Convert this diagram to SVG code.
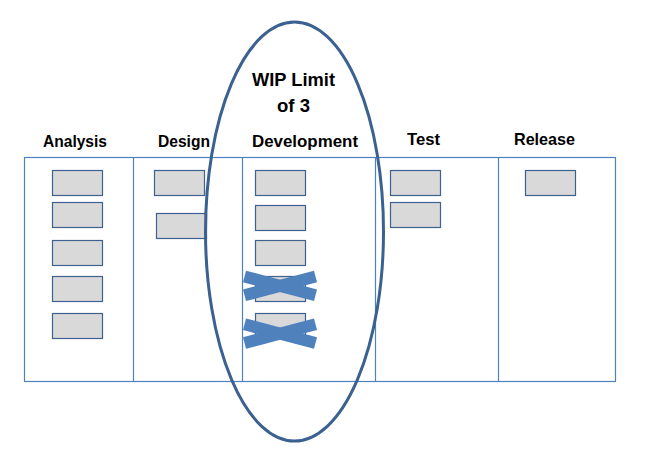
<svg xmlns="http://www.w3.org/2000/svg" width="645" height="457" viewBox="0 0 645 457">
<style>
.lbl{font-family:"Liberation Sans",Arial,sans-serif;font-weight:bold;font-size:16.5px;fill:#000;text-anchor:middle}
.wip{font-family:"Liberation Sans",Arial,sans-serif;font-weight:bold;font-size:17.5px;fill:#000;text-anchor:middle}
.card{fill:#d9d9d9;stroke:#3e6290;stroke-width:1.2}
.board{fill:none;stroke:#4f81bd;stroke-width:1.2}
.x{fill:none;stroke:#4f81bd;stroke-width:12;stroke-linecap:butt}
</style>
<rect width="645" height="457" fill="#fff"/>
<g id="board">
<rect class="board" x="24.5" y="157.5" width="591" height="224"/>
<line class="board" x1="133.5" y1="157.5" x2="133.5" y2="381.5"/>
<line class="board" x1="242.5" y1="157.5" x2="242.5" y2="381.5"/>
<line class="board" x1="375.5" y1="157.5" x2="375.5" y2="381.5"/>
<line class="board" x1="498.5" y1="157.5" x2="498.5" y2="381.5"/>
</g>
<g id="labels">
<text class="lbl" x="75" y="147" textLength="64" lengthAdjust="spacingAndGlyphs">Analysis</text>
<text class="lbl" x="184" y="147" textLength="52" lengthAdjust="spacingAndGlyphs">Design</text>
<text class="lbl" x="305" y="147" textLength="106" lengthAdjust="spacingAndGlyphs">Development</text>
<text class="lbl" x="423.5" y="145" textLength="33" lengthAdjust="spacingAndGlyphs">Test</text>
<text class="lbl" x="544.5" y="145" textLength="61" lengthAdjust="spacingAndGlyphs">Release</text>
</g>
<g id="analysis-cards">
<rect class="card" x="52.5" y="170.5" width="50" height="25"/>
<rect class="card" x="52.5" y="202.5" width="50" height="25"/>
<rect class="card" x="52.5" y="240.5" width="50" height="25"/>
<rect class="card" x="52.5" y="276.5" width="50" height="25"/>
<rect class="card" x="52.5" y="313.5" width="50" height="25"/>
</g>
<g id="design-cards">
<rect class="card" x="154.5" y="170.5" width="50" height="25"/>
<rect class="card" x="156.5" y="213.5" width="50" height="25"/>
</g>
<g id="development-cards">
<rect class="card" x="255.5" y="170.5" width="50" height="25"/>
<rect class="card" x="255.5" y="205.5" width="50" height="25"/>
<rect class="card" x="255.5" y="240.5" width="50" height="25"/>
<rect class="card" x="255.5" y="276.5" width="50" height="25"/>
<rect class="card" x="255.5" y="313.5" width="50" height="25"/>
</g>
<g id="test-cards">
<rect class="card" x="390.5" y="170.5" width="50" height="25"/>
<rect class="card" x="390.5" y="202.5" width="50" height="25"/>
</g>
<g id="release-cards">
<rect class="card" x="525.5" y="170.5" width="50" height="25"/>
</g>
<g id="cross1">
<line class="x" x1="244.5" y1="276.5" x2="315.5" y2="295.2"/>
<line class="x" x1="244.5" y1="295.2" x2="315.5" y2="276.5"/>
</g>
<g id="cross2">
<line class="x" x1="244.5" y1="324.3" x2="315.5" y2="343"/>
<line class="x" x1="244.5" y1="343" x2="315.5" y2="324.3"/>
</g>
<g id="wip-limit">
<ellipse cx="294.5" cy="231.5" rx="89" ry="209.5" fill="none" stroke="#3b6190" stroke-width="3"/>
<text class="wip" x="293.5" y="86" textLength="83" lengthAdjust="spacingAndGlyphs">WIP Limit</text>
<text class="wip" x="293.5" y="112" textLength="33" lengthAdjust="spacingAndGlyphs">of 3</text>
</g>
</svg>
